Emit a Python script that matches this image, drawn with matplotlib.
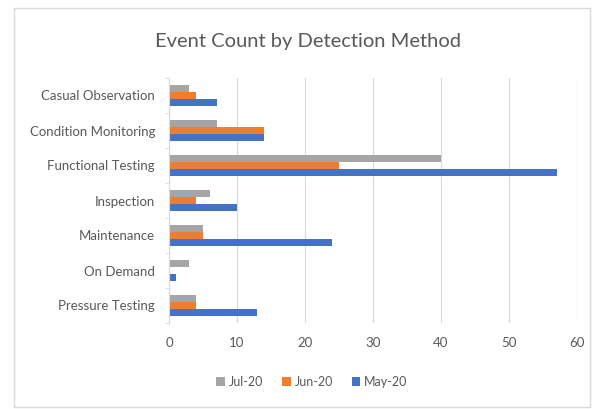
import numpy as np
import matplotlib
matplotlib.use('Agg')
import matplotlib.pyplot as plt
from matplotlib.patches import Rectangle

categories = ['Casual Observation', 'Condition Monitoring', 'Functional Testing',
              'Inspection', 'Maintenance', 'On Demand', 'Pressure Testing']
jul_20 = [3, 7, 40, 6, 5, 3, 4]
jun_20 = [4, 14, 25, 4, 5, 0, 4]
may_20 = [7, 14, 57, 10, 24, 1, 13]
series_labels = ['Jul-20', 'Jun-20', 'May-20']
xticks = [0, 10, 20, 30, 40, 50, 60]

txt_col = '#595959'
grid_col = '#d9d9d9'
colors = ['#a5a5a5', '#ed7d31', '#4472c4']

plt.rcParams['font.family'] = ['Lato', 'DejaVu Sans']

W, H = 594, 409
fig = plt.figure(figsize=(W / 100, H / 100), dpi=100)
ax = fig.add_axes([169 / W, 1 - 323 / H, (577 - 169) / W, (323 - 78) / H])

n = len(categories)
y = np.arange(n)[::-1]
bh = 0.2
for vals, off, col, lab in zip([jul_20, jun_20, may_20], [bh, 0, -bh], colors, series_labels):
    ax.barh(y + off, vals, height=bh, color=col, label=lab, zorder=3)

ax.set_xlim(0, 60)
ax.set_ylim(-0.5, n - 0.5)
ax.set_xticks(xticks)
ax.set_yticks(y)
ax.set_yticklabels(categories)
ax.set_yticks(np.arange(n + 1) - 0.5, minor=True)
ax.tick_params(axis='y', which='major', length=0, pad=10, labelsize=9.5, labelcolor=txt_col)
ax.tick_params(axis='y', which='minor', length=3, color=grid_col)
ax.tick_params(axis='x', length=0, pad=10, labelsize=9.5, labelcolor=txt_col)
ax.grid(axis='x', color=grid_col, lw=0.8, zorder=0)

for s in ['top', 'right', 'bottom']:
    ax.spines[s].set_visible(False)
ax.spines['left'].set_color(grid_col)
ax.spines['left'].set_zorder(4)

fig.text(308 / W, 1 - 41 / H, 'Event Count by Detection Method', ha='center', va='center',
         fontsize=14.5, color=txt_col)

fig.legend(loc='center', bbox_to_anchor=(312 / W, 1 - 382 / H), ncol=3, frameon=False,
           fontsize=9, labelcolor=txt_col, handlelength=0.7, handleheight=0.7,
           handletextpad=0.3, columnspacing=1.5)

fig.patches.append(Rectangle((14 / W, 1 - 407 / H), (590 - 14) / W, (407 - 8) / H,
                             transform=fig.transFigure, fill=False, edgecolor='#d9d9d9', lw=1))

fig.savefig('out.png', dpi=100)
